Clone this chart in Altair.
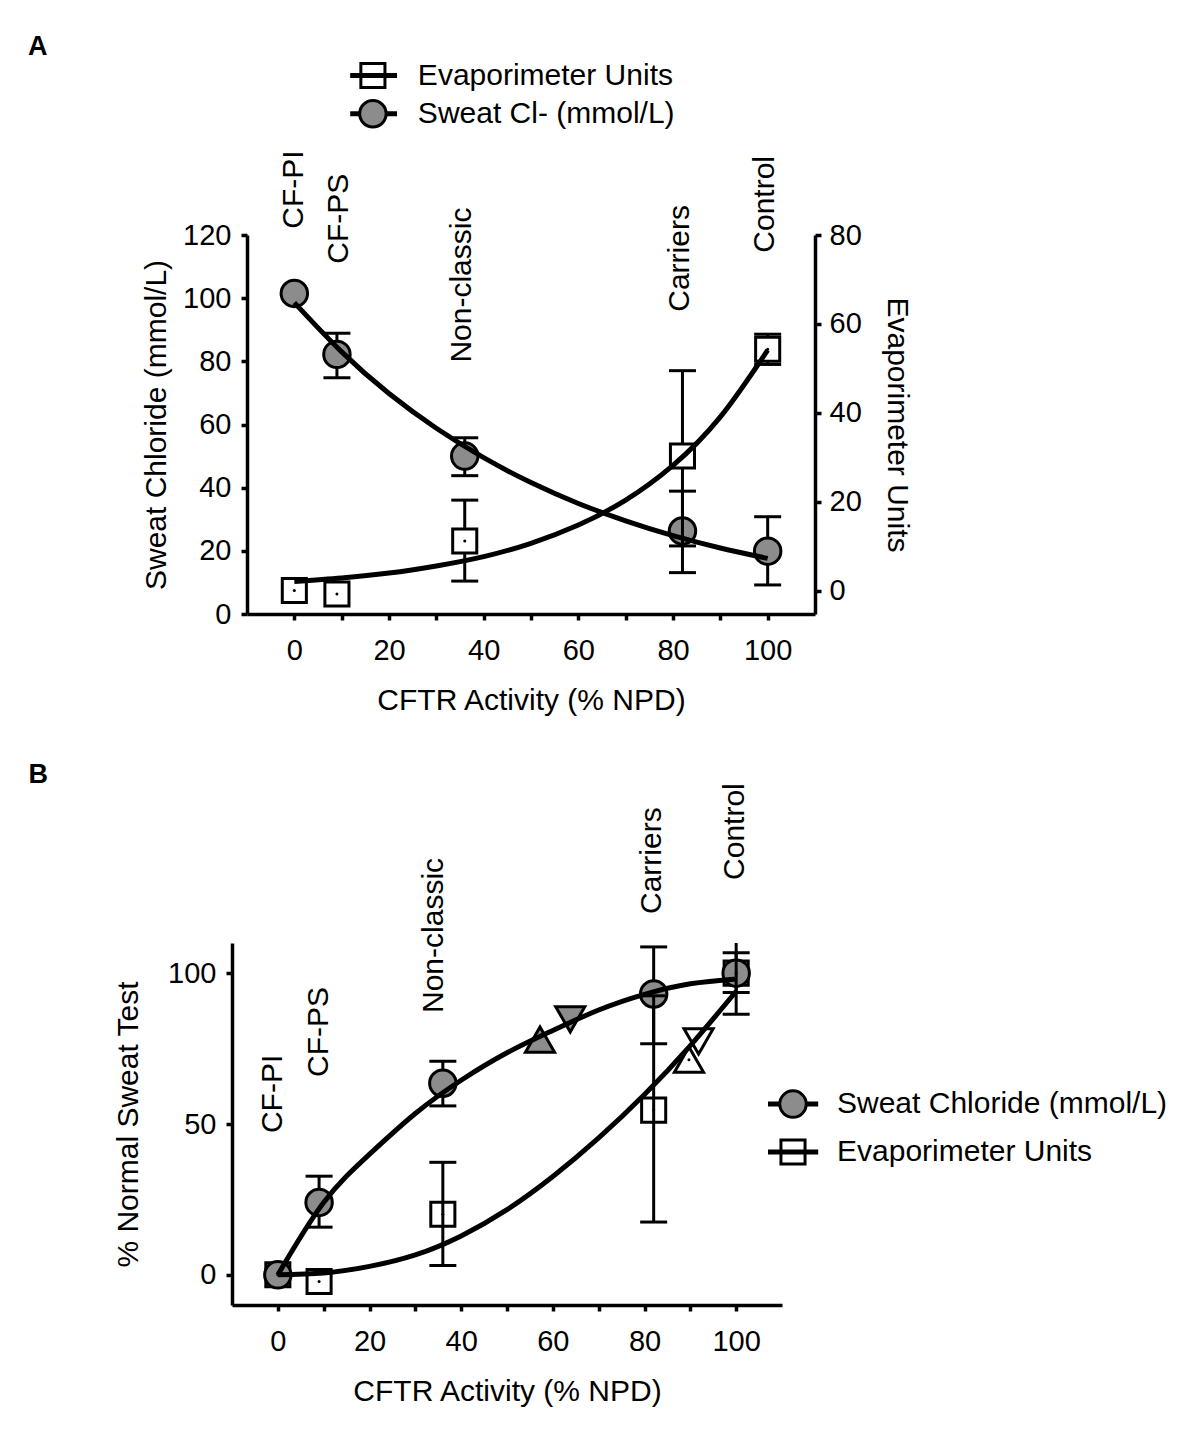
import altair as alt
import pandas as pd

FONT = "Liberation Sans"
GRAY = "#8c8c8c"

# ---------------- Panel A data ----------------
a_x = [0, 9, 36, 82, 100]
a_sweat = [101.5, 82.2, 50.0, 26.3, 19.9]
a_sweat_err_x = [9, 36, 82, 100]
a_sweat_lo = [74.8, 43.8, 13.1, 9.2]
a_sweat_hi = [88.9, 55.8, 38.9, 30.8]
a_evap = [0.1, -0.7, 11.2, 30.3, 54.3]
a_evap_err_x = [36, 82, 100]
a_evap_lo = [2.2, 10.1, 50.9]
a_evap_hi = [20.4, 49.5, 57.7]
fit_x = [0, 10, 20, 30, 40, 50, 60, 70, 80, 90, 100]
a_sweat_fit = [98.6, 83.0, 69.8, 58.8, 49.5, 41.6, 35.0, 29.5, 24.8, 20.9, 17.6]
a_evap_fit = [2.1, 2.9, 4.0, 5.6, 7.7, 10.7, 14.8, 20.4, 28.2, 39.1, 54.1]
groups = ["CF-PI", "CF-PS", "Non-classic", "Carriers", "Control"]
a_group_x = [0, 9.5, 35.5, 81.5, 99.5]
a_group_y = [122.0, 110.9, 79.6, 95.7, 114.4]
a_legend = ["Evaporimeter Units", "Sweat Cl- (mmol/L)"]

# ---------------- Panel B data ----------------
b_x = [0, 9, 36, 82, 100]
b_sweat = [0, 24.0, 63.5, 93.1, 100]
b_sweat_err_x = [9, 36, 82, 100]
b_sweat_lo = [15.8, 56.0, 76.6, 93.6]
b_sweat_hi = [32.7, 70.8, 108.7, 106.8]
b_evap = [0, -2.2, 20.1, 54.6, 100]
b_evap_err_x = [36, 82, 100]
b_evap_lo = [3.1, 17.5, 86.4]
b_evap_hi = [37.3, 92.5, 113.6]
b_sweat_fit = [0, 24.0, 40.0, 53.5, 64.5, 73.6, 81.0, 87.8, 93.0, 96.5, 98.1]
b_evap_fit = [0, 0.6, 2.8, 6.6, 12.9, 21.6, 32.6, 45.4, 59.8, 76.0, 94.0]
# triangles: sweat (grey) and evaporimeter (white) series
b_tri_sweat_up_x, b_tri_sweat_up_y = [57.2], [78.0]
b_tri_sweat_down_x, b_tri_sweat_down_y = [63.8], [84.7]
b_tri_evap_up_x, b_tri_evap_up_y = [89.7], [71.3]
b_tri_evap_down_x, b_tri_evap_down_y = [91.8], [77.4]
b_group_x = [-1, 9, 34, 81.6, 99.7]
b_group_y = [47.0, 65.6, 86.8, 119.6, 130.9]
b_legend = ["Sweat Chloride (mmol/L)", "Evaporimeter Units"]

xticks = list(range(0, 101, 10))
label_expr = "datum.value % 20 === 0 ? datum.label : ''"

CIRCLE_SIZE = 700
SQUARE_SIZE = 580
TRI_SIZE = 850
LINE_W = 5


# ---------------- encodings ----------------
def a_xe(f):
    return alt.X(f"{f}:Q",
                 scale=alt.Scale(domain=[-10, 110], range=[15, 583], nice=False, zero=False),
                 axis=alt.Axis(values=xticks, labelExpr=label_expr,
                               title="CFTR Activity (% NPD)", titlePadding=20))


def a_yl(f):
    return alt.Y(f"{f}:Q", scale=alt.Scale(domain=[0, 120], nice=False, zero=False),
                 axis=alt.Axis(values=[0, 20, 40, 60, 80, 100, 120], orient="left",
                               title="Sweat Chloride (mmol/L)", offset=-15, titlePadding=11))


def a_yr(f):
    return alt.Y(f"{f}:Q", scale=alt.Scale(domain=[-5.2, 80], nice=False, zero=False),
                 axis=alt.Axis(values=[0, 20, 40, 60, 80], orient="right",
                               title="Evaporimeter Units", titlePadding=20, labelPadding=8))


def b_xe(f):
    return alt.X(f"{f}:Q",
                 scale=alt.Scale(domain=[-10, 110], nice=False, zero=False),
                 axis=alt.Axis(values=xticks, labelExpr=label_expr,
                               title="CFTR Activity (% NPD)", titlePadding=20))


def b_ye(f):
    return alt.Y(f"{f}:Q", scale=alt.Scale(domain=[-10, 110], nice=False, zero=False),
                 axis=alt.Axis(values=[0, 50, 100], orient="left",
                               title="% Normal Sweat Test", titlePadding=24))


def errbars(df, xe, ye, clip=False):
    rule = alt.Chart(df).mark_rule(color="black", strokeWidth=3, clip=clip).encode(
        x=xe("x"), y=ye("lo"), y2=alt.Y2("hi:Q"))
    lo = alt.Chart(df).mark_tick(orient="horizontal", size=27, thickness=3, color="black",
                                 opacity=1, clip=clip).encode(x=xe("x"), y=ye("lo"))
    hi = alt.Chart(df).mark_tick(orient="horizontal", size=27, thickness=3, color="black",
                                 opacity=1, clip=clip).encode(x=xe("x"), y=ye("hi"))
    return [rule, lo, hi]


def symbol(df, xe, ye, fx, fy, shape, fill, size):
    return alt.Chart(df).mark_point(shape=shape, filled=True, size=size, fill=fill,
                                    stroke="black", strokeWidth=3, opacity=1).encode(
        x=xe(fx), y=ye(fy))


def dots(df, xe, ye, f):
    return alt.Chart(df).mark_circle(size=9, color="black", opacity=1).encode(
        x=xe("x"), y=ye(f))


def curve(df, xe, ye, f):
    return alt.Chart(df).mark_line(color="black", strokeWidth=LINE_W, interpolate="natural").encode(
        x=xe("x"), y=ye(f))


def group_text(df, xe, ye):
    return alt.Chart(df).mark_text(angle=270, align="left", baseline="middle", font=FONT,
                                   fontSize=30, color="black").encode(
        x=xe("x"), y=ye("y"), text="label:N")


def legend(df, xe, ye, kinds):
    # kinds: list of "square"/"circle" in row order
    line = alt.Chart(df).mark_rule(color="black", strokeWidth=LINE_W).encode(
        x=xe("x1"), x2=alt.X2("x2:Q"), y=ye("y"))
    layers = [line]
    for i, k in enumerate(kinds):
        row = df.iloc[[i]]
        if k == "square":
            layers.append(symbol(row, xe, ye, "xs", "y", "square", "transparent", SQUARE_SIZE))
        else:
            layers.append(symbol(row, xe, ye, "xs", "y", "circle", GRAY, CIRCLE_SIZE))
    txt = alt.Chart(df).mark_text(align="left", baseline="middle", font=FONT, fontSize=30,
                                  color="black").encode(
        x=xe("xt"), y=ye("y"), text="label:N")
    layers.append(txt)
    return layers


def letter(df, xe, ye):
    return alt.Chart(df).mark_text(font=FONT, fontSize=27, fontWeight="bold", align="center",
                                   baseline="middle", color="black").encode(
        x=xe("x"), y=ye("y"), text="t:N")


# ---------------- Panel A ----------------
a_pts = pd.DataFrame({"x": a_x, "sweat": a_sweat, "evap": a_evap})
a_fit = pd.DataFrame({"x": fit_x, "sweat": a_sweat_fit, "evap": a_evap_fit})
a_serr = pd.DataFrame({"x": a_sweat_err_x, "lo": a_sweat_lo, "hi": a_sweat_hi})
a_eerr = pd.DataFrame({"x": a_evap_err_x, "lo": a_evap_lo, "hi": a_evap_hi})
a_groups = pd.DataFrame({"label": groups, "x": a_group_x, "y": a_group_y})
a_leg = pd.DataFrame({"label": a_legend, "y": [170.5, 158.4],
                      "x1": [11.8, 11.8], "x2": [21.7, 21.7], "xs": [16.6, 16.6],
                      "xt": [26.1, 26.1]})
a_let = pd.DataFrame({"t": ["A"], "x": [-54.2], "y": [179.6]})

left_layers = (errbars(a_serr, a_xe, a_yl)
               + [symbol(a_pts, a_xe, a_yl, "x", "sweat", "circle", GRAY, CIRCLE_SIZE),
                  curve(a_fit, a_xe, a_yl, "sweat"),
                  group_text(a_groups, a_xe, a_yl)]
               + legend(a_leg, a_xe, a_yl, ["square", "circle"])
               + [letter(a_let, a_xe, a_yl)])
right_layers = (errbars(a_eerr, a_xe, a_yr)
                + [symbol(a_pts, a_xe, a_yr, "x", "evap", "square", "white", SQUARE_SIZE),
                   curve(a_fit, a_xe, a_yr, "evap"),
                   dots(a_pts, a_xe, a_yr, "evap")])

panel_a = alt.layer(alt.layer(*left_layers), alt.layer(*right_layers)).resolve_scale(
    y="independent").properties(width=583, height=379)

# ---------------- Panel B ----------------
b_pts = pd.DataFrame({"x": b_x, "sweat": b_sweat, "evap": b_evap})
b_fit = pd.DataFrame({"x": fit_x, "sweat": b_sweat_fit, "evap": b_evap_fit})
b_serr = pd.DataFrame({"x": b_sweat_err_x, "lo": b_sweat_lo, "hi": b_sweat_hi})
b_eerr = pd.DataFrame({"x": b_evap_err_x, "lo": b_evap_lo, "hi": b_evap_hi})
b_su = pd.DataFrame({"x": b_tri_sweat_up_x, "y": b_tri_sweat_up_y})
b_sd = pd.DataFrame({"x": b_tri_sweat_down_x, "y": b_tri_sweat_down_y})
b_eu = pd.DataFrame({"x": b_tri_evap_up_x, "y": b_tri_evap_up_y})
b_ed = pd.DataFrame({"x": b_tri_evap_down_x, "y": b_tri_evap_down_y})
b_groups = pd.DataFrame({"label": groups, "x": b_group_x, "y": b_group_y})
b_leg = pd.DataFrame({"label": b_legend, "y": [56.6, 40.7],
                      "x1": [106.95, 106.95], "x2": [117.9, 117.9], "xs": [112.4, 112.4],
                      "xt": [122.0, 122.0]})
b_let = pd.DataFrame({"t": ["B"], "x": [-52.3], "y": [165.7]})

b_layers = (errbars(b_serr, b_xe, b_ye)
            + [symbol(b_pts, b_xe, b_ye, "x", "evap", "square", "white", SQUARE_SIZE),
               symbol(b_pts, b_xe, b_ye, "x", "sweat", "circle", GRAY, CIRCLE_SIZE)]
            + errbars(b_eerr, b_xe, b_ye, clip=True)
            + [symbol(b_su, b_xe, b_ye, "x", "y", "triangle-up", GRAY, TRI_SIZE),
               symbol(b_sd, b_xe, b_ye, "x", "y", "triangle-down", GRAY, TRI_SIZE),
               symbol(b_eu, b_xe, b_ye, "x", "y", "triangle-up", "white", TRI_SIZE),
               symbol(b_ed, b_xe, b_ye, "x", "y", "triangle-down", "white", TRI_SIZE),
               curve(b_fit, b_xe, b_ye, "sweat"), curve(b_fit, b_xe, b_ye, "evap"),
               dots(b_pts, b_xe, b_ye, "evap"), dots(b_eu, b_xe, b_ye, "y"),
               group_text(b_groups, b_xe, b_ye)]
            + legend(b_leg, b_xe, b_ye, ["circle", "square"])
            + [letter(b_let, b_xe, b_ye)])

panel_b = alt.layer(*b_layers).properties(width=550, height=362)

chart = alt.vconcat(panel_a, panel_b, spacing=45).properties(
    padding={"left": 20, "top": 24, "right": 10, "bottom": 10}
).configure_view(stroke=None).configure_axis(
    labelFont=FONT, titleFont=FONT, labelFontSize=29, titleFontSize=30,
    titleFontWeight="normal", labelColor="black", titleColor="black",
    domainColor="black", tickColor="black", domainWidth=3.5, tickWidth=3.5,
    tickSize=6, grid=False
).configure_axisX(labelPadding=16).configure_axisY(labelPadding=10)

chart.save("out.html", embed_options={"renderer": "svg", "actions": False})
